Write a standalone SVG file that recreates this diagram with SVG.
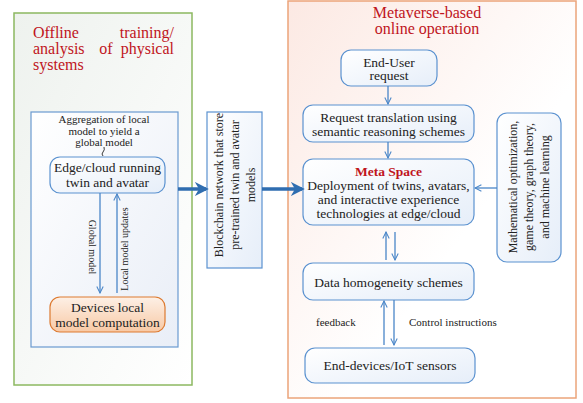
<svg xmlns="http://www.w3.org/2000/svg" width="583" height="403" viewBox="0 0 583 403" font-family="'Liberation Serif','Times New Roman','DejaVu Serif',serif">
<defs>
<linearGradient id="gNode" x1="0" y1="0" x2="1" y2="1"><stop offset="0" stop-color="#ffffff"/><stop offset="1" stop-color="#e6eef9"/></linearGradient>
<linearGradient id="gOrange" x1="0" y1="0" x2="0" y2="1"><stop offset="0" stop-color="#fdf0e6"/><stop offset="1" stop-color="#f8c9a5"/></linearGradient>
<linearGradient id="gGreen" x1="0" y1="0" x2="1" y2="1"><stop offset="0" stop-color="#eef2ee"/><stop offset="1" stop-color="#ffffff"/></linearGradient>
<linearGradient id="gPink" x1="0" y1="0" x2="1" y2="1"><stop offset="0" stop-color="#fce9e3"/><stop offset="0.6" stop-color="#ffffff"/><stop offset="1" stop-color="#ffffff"/></linearGradient>
<linearGradient id="gInner" x1="0" y1="0" x2="1" y2="1"><stop offset="0" stop-color="#ffffff"/><stop offset="1" stop-color="#e9eef7"/></linearGradient>
<marker id="ah" viewBox="0 0 10 10" refX="9" refY="5" markerWidth="8" markerHeight="8" markerUnits="userSpaceOnUse" orient="auto">
<path d="M1,1 L9,5 L1,9" fill="none" stroke="#4a86c8" stroke-width="1.3"/>
</marker>
<marker id="ahb" viewBox="0 0 10 10" refX="8" refY="5" markerWidth="14" markerHeight="14" markerUnits="userSpaceOnUse" orient="auto">
<path d="M0,0 L10,5 L0,10 L3,5 Z" fill="#2f6db0"/>
</marker>
</defs>
<style>
text{font-family:"Liberation Serif","Times New Roman","DejaVu Serif",serif;fill:#222;}
.t{font-size:13.5px;text-anchor:middle;}
.s{font-size:11px;text-anchor:middle;}
.title{font-size:16px;fill:#c0141c;}
.node{fill:url(#gNode);stroke:#5b92d0;stroke-width:1.2;}
.ln{stroke:#4a86c8;stroke-width:1.3;fill:none;marker-end:url(#ah);}
.big{stroke:#2f6db0;stroke-width:3.5;fill:none;marker-end:url(#ahb);}
</style>

<g id="offline">
<rect x="14" y="13" width="178" height="372" fill="url(#gGreen)" stroke="#8cb860" stroke-width="1.5"/>
<text class="title" x="33" y="38">Offline</text>
<text class="title" x="174" y="38" text-anchor="end">training/</text>
<text class="title" x="33" y="54">analysis</text>
<text class="title" x="106" y="54" text-anchor="middle">of</text>
<text class="title" x="174" y="54" text-anchor="end">physical</text>
<text class="title" x="33" y="70">systems</text>
</g>

<g id="inner">
<rect x="31" y="112" width="147" height="235" fill="url(#gInner)" stroke="#6a9ad0" stroke-width="1.2"/>
<text class="s" x="104" y="123">Aggregation of local</text>
<text class="s" x="104" y="135">model to yield a</text>
<text class="s" x="104" y="146">global model</text>
<path d="M104,147 Q105,150 103,152 Q101,154 103,156" fill="none" stroke="#222" stroke-width="0.9"/>
</g>

<g id="edge">
<rect class="node" x="50" y="157" width="115" height="36" rx="10"/>
<text class="t" x="107.5" y="171.5">Edge/cloud running</text>
<text class="t" x="107.5" y="186.5">twin and avatar</text>
</g>

<g id="devices">
<rect x="50" y="297" width="115" height="35" rx="10" fill="url(#gOrange)" stroke="#dd7a30" stroke-width="1.2"/>
<text class="t" x="107.5" y="311.5">Devices local</text>
<text class="t" x="107.5" y="326.5">model computation</text>
</g>

<g id="blockchain">
<rect x="207" y="112" width="55" height="156" fill="url(#gNode)" stroke="#5b92d0" stroke-width="1.2"/>
<g transform="translate(234.5,185) rotate(-90)">
<text x="0" y="-12" style="font-size:12px;text-anchor:middle">Blockchain network that store</text>
<text x="0" y="4" style="font-size:12px;text-anchor:middle">pre-trained twin and avatar</text>
<text x="0" y="20" style="font-size:12px;text-anchor:middle">models</text>
</g>
</g>

<g id="online">
<rect x="288" y="1" width="288" height="397" fill="url(#gPink)" stroke="#eba47a" stroke-width="1.5"/>
<text class="title" x="427" y="18" text-anchor="middle">Metaverse-based</text>
<text class="title" x="427" y="34" text-anchor="middle">online operation</text>
</g>

<g id="enduser">
<rect class="node" x="341" y="50" width="96" height="36" rx="10"/>
<text class="t" x="389" y="66.5">End-User</text>
<text class="t" x="389" y="80">request</text>
</g>

<g id="translation">
<rect class="node" x="303" y="105" width="171" height="37" rx="10"/>
<text class="t" x="388.5" y="121.5">Request translation using</text>
<text class="t" x="388.5" y="136">semantic reasoning schemes</text>
</g>

<g id="metaspace">
<rect class="node" x="303" y="159" width="171" height="66" rx="10"/>
<text class="t" x="388.5" y="175.5" style="fill:#c0141c;font-weight:bold">Meta Space</text>
<text class="t" x="388.5" y="189.5">Deployment of twins, avatars,</text>
<text class="t" x="388.5" y="203.5">and interactive experience</text>
<text class="t" x="388.5" y="217.5">technologies at edge/cloud</text>
</g>

<g id="math">
<rect class="node" x="497" y="113" width="64" height="149" rx="10"/>
<g transform="translate(529,187) rotate(-90)">
<text x="0" y="-12" style="font-size:12px;text-anchor:middle">Mathematical optimization,</text>
<text x="0" y="4" style="font-size:12px;text-anchor:middle">game theory, graph theory,</text>
<text x="0" y="20" style="font-size:12px;text-anchor:middle">and machine learning</text>
</g>
</g>

<g id="datahomo">
<rect class="node" x="303" y="263" width="171" height="37" rx="10"/>
<text class="t" x="388.5" y="286.5">Data homogeneity schemes</text>
</g>

<g id="enddevices">
<rect class="node" x="305" y="348" width="170" height="35" rx="10"/>
<text class="t" x="390" y="369.5">End-devices/IoT sensors</text>
</g>

<g id="connectors">
<line class="ln" x1="100" y1="193" x2="100" y2="293"/>
<line class="ln" x1="117" y1="293" x2="117" y2="194"/>
<text transform="translate(89,247) rotate(90)" style="font-size:10px;text-anchor:middle">Global model</text>
<text transform="translate(128,249) rotate(-90)" style="font-size:10px;text-anchor:middle">Local model updates</text>
<line class="big" x1="178" y1="189" x2="206" y2="189"/>
<line class="big" x1="262" y1="189" x2="302" y2="189"/>
<line class="ln" x1="388" y1="86" x2="388" y2="104"/>
<line class="ln" x1="388" y1="142" x2="388" y2="158"/>
<line class="ln" x1="497" y1="188" x2="475" y2="188"/>
<line class="ln" x1="386" y1="260" x2="386" y2="232"/>
<line class="ln" x1="395" y1="232" x2="395" y2="260"/>
<line class="ln" x1="384" y1="345" x2="384" y2="301"/>
<line class="ln" x1="394" y1="300" x2="394" y2="345"/>
<text x="316" y="326" style="font-size:11px">feedback</text>
<text x="409" y="326" style="font-size:11px">Control instructions</text>
</g>
</svg>
